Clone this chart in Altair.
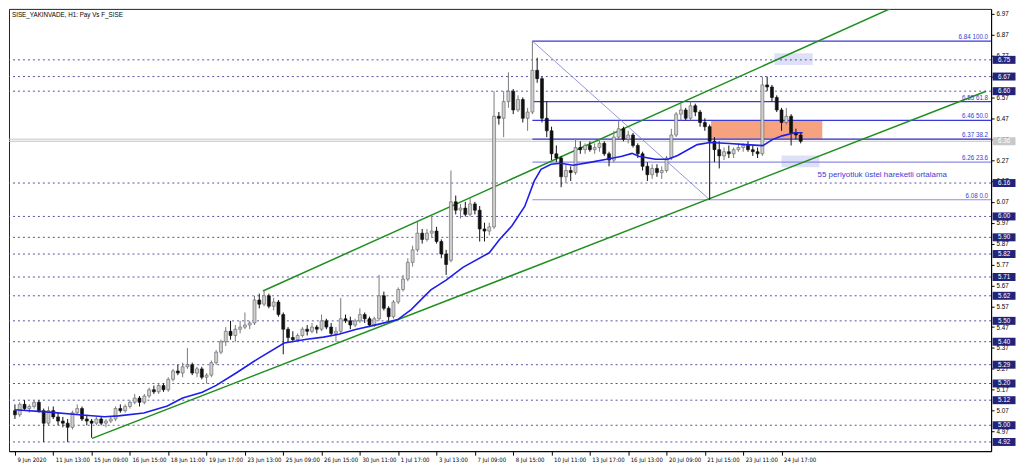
import json
import altair as alt
import pandas as pd

# ---------------- data (each candle = 2 H1 bars) ----------------
opens = [
    5.07, 5.05, 5.10, 5.08, 5.09, 5.11, 5.07, 5.01, 5.07, 5.04,
    5.02, 5.01, 4.99, 5.06, 5.08, 5.03, 5.02, 5.01, 5.03, 5.01,
    5.02, 5.03, 5.08, 5.07, 5.09, 5.11, 5.13, 5.11, 5.14, 5.17,
    5.16, 5.19, 5.17, 5.22, 5.26, 5.25, 5.28, 5.29, 5.25, 5.27,
    5.23, 5.24, 5.30, 5.35, 5.40, 5.45, 5.43, 5.46, 5.47, 5.48,
    5.49, 5.60, 5.58, 5.62, 5.57, 5.59, 5.53, 5.46, 5.42, 5.41,
    5.43, 5.46, 5.45, 5.47, 5.46, 5.50, 5.47, 5.44, 5.45, 5.51,
    5.50, 5.48, 5.50, 5.53, 5.51, 5.48, 5.51, 5.62, 5.56, 5.52,
    5.59, 5.65, 5.70, 5.78, 5.84, 5.92, 5.89, 5.92, 5.93, 5.88,
    5.82, 5.79, 6.07, 6.03, 6.04, 6.01, 6.06, 6.03, 5.94, 5.93,
    5.95, 6.48, 6.47, 6.55, 6.60, 6.51, 6.56, 6.47, 6.50, 6.70,
    6.66, 6.47, 6.41, 6.30, 6.28, 6.19, 6.22, 6.21, 6.33, 6.32,
    6.34, 6.32, 6.33, 6.35, 6.30, 6.27, 6.38, 6.42, 6.37, 6.39,
    6.34, 6.30, 6.24, 6.20, 6.23, 6.21, 6.22, 6.28, 6.39, 6.49,
    6.51, 6.47, 6.53, 6.50, 6.45, 6.43, 6.36, 6.32, 6.29, 6.31,
    6.30, 6.32, 6.33, 6.34, 6.32, 6.31, 6.30, 6.63, 6.62, 6.57,
    6.51, 6.45, 6.48, 6.40, 6.39,
]
highs = [
    5.10, 5.11, 5.12, 5.10, 5.12, 5.12, 5.08, 5.09, 5.09, 5.06,
    5.04, 5.03, 5.07, 5.10, 5.09, 5.05, 5.03, 5.04, 5.04, 5.03,
    5.04, 5.09, 5.10, 5.10, 5.12, 5.15, 5.14, 5.15, 5.18, 5.19,
    5.20, 5.20, 5.23, 5.27, 5.29, 5.30, 5.37, 5.30, 5.28, 5.28,
    5.25, 5.31, 5.36, 5.41, 5.47, 5.50, 5.48, 5.50, 5.54, 5.50,
    5.62, 5.63, 5.645, 5.63, 5.61, 5.60, 5.54, 5.47, 5.45, 5.44,
    5.47, 5.48, 5.49, 5.48, 5.53, 5.51, 5.49, 5.47, 5.61, 5.53,
    5.52, 5.51, 5.56, 5.54, 5.52, 5.52, 5.72, 5.64, 5.57, 5.60,
    5.66, 5.72, 5.80, 5.86, 5.98, 5.94, 5.94, 6.00, 5.95, 5.89,
    5.84, 6.22, 6.10, 6.06, 6.07, 6.09, 6.07, 6.05, 5.97, 5.97,
    6.60, 6.50, 6.60, 6.69, 6.61, 6.58, 6.57, 6.52, 6.84, 6.76,
    6.67, 6.55, 6.43, 6.34, 6.29, 6.25, 6.24, 6.37, 6.36, 6.35,
    6.36, 6.35, 6.37, 6.36, 6.31, 6.41, 6.46, 6.43, 6.41, 6.40,
    6.35, 6.31, 6.26, 6.25, 6.25, 6.24, 6.29, 6.42, 6.50, 6.54,
    6.52, 6.55, 6.54, 6.51, 6.47, 6.44, 6.38, 6.36, 6.33, 6.34,
    6.33, 6.35, 6.35, 6.36, 6.34, 6.33, 6.67, 6.67, 6.63, 6.58,
    6.52, 6.52, 6.49, 6.42, 6.40,
]
lows = [
    5.03, 5.04, 5.07, 5.06, 5.08, 5.06, 4.92, 5.00, 5.03, 5.00,
    4.99, 4.92, 4.98, 5.05, 5.02, 5.00, 4.94, 5.00, 5.00, 4.99,
    5.01, 5.02, 5.06, 5.06, 5.08, 5.10, 5.09, 5.10, 5.13, 5.15,
    5.15, 5.16, 5.16, 5.21, 5.24, 5.23, 5.27, 5.24, 5.23, 5.22,
    5.20, 5.23, 5.29, 5.34, 5.38, 5.41, 5.40, 5.44, 5.46, 5.46,
    5.48, 5.56, 5.57, 5.56, 5.55, 5.52, 5.34, 5.40, 5.40, 5.40,
    5.42, 5.43, 5.44, 5.44, 5.45, 5.46, 5.43, 5.40, 5.44, 5.49,
    5.46, 5.47, 5.49, 5.49, 5.47, 5.47, 5.50, 5.55, 5.50, 5.51,
    5.58, 5.64, 5.69, 5.76, 5.83, 5.87, 5.88, 5.90, 5.87, 5.80,
    5.72, 5.78, 6.01, 5.99, 6.00, 6.00, 6.01, 5.88, 5.88, 5.91,
    5.94, 6.44, 6.38, 6.52, 6.49, 6.50, 6.45, 6.41, 6.49, 6.64,
    6.45, 6.38, 6.27, 6.26, 6.14, 6.16, 6.17, 6.20, 6.30, 6.30,
    6.31, 6.30, 6.31, 6.29, 6.24, 6.26, 6.37, 6.36, 6.35, 6.33,
    6.28, 6.22, 6.17, 6.18, 6.19, 6.18, 6.21, 6.27, 6.38, 6.46,
    6.46, 6.46, 6.48, 6.43, 6.41, 6.08, 6.26, 6.23, 6.27, 6.28,
    6.28, 6.31, 6.31, 6.31, 6.29, 6.28, 6.29, 6.60, 6.55, 6.50,
    6.41, 6.44, 6.34, 6.37, 6.35,
]
closes = [
    5.05, 5.10, 5.08, 5.09, 5.11, 5.07, 5.01, 5.07, 5.04, 5.02,
    5.01, 4.99, 5.06, 5.08, 5.03, 5.02, 5.01, 5.03, 5.01, 5.02,
    5.03, 5.08, 5.07, 5.09, 5.11, 5.13, 5.11, 5.14, 5.17, 5.16,
    5.19, 5.17, 5.22, 5.26, 5.25, 5.28, 5.29, 5.25, 5.27, 5.23,
    5.24, 5.30, 5.35, 5.40, 5.45, 5.43, 5.46, 5.47, 5.48, 5.49,
    5.60, 5.58, 5.62, 5.57, 5.59, 5.53, 5.46, 5.42, 5.41, 5.43,
    5.46, 5.45, 5.47, 5.46, 5.50, 5.47, 5.44, 5.45, 5.51, 5.50,
    5.48, 5.50, 5.53, 5.51, 5.48, 5.51, 5.62, 5.56, 5.52, 5.59,
    5.65, 5.70, 5.78, 5.84, 5.92, 5.89, 5.92, 5.93, 5.88, 5.82,
    5.77, 6.07, 6.03, 6.04, 6.01, 6.06, 6.03, 5.94, 5.93, 5.95,
    6.48, 6.47, 6.55, 6.60, 6.51, 6.56, 6.47, 6.50, 6.70, 6.66,
    6.47, 6.41, 6.30, 6.28, 6.19, 6.22, 6.21, 6.33, 6.32, 6.34,
    6.32, 6.33, 6.35, 6.30, 6.27, 6.38, 6.42, 6.37, 6.39, 6.34,
    6.30, 6.24, 6.20, 6.23, 6.21, 6.22, 6.28, 6.39, 6.49, 6.51,
    6.47, 6.53, 6.50, 6.45, 6.43, 6.36, 6.32, 6.29, 6.31, 6.30,
    6.32, 6.33, 6.34, 6.32, 6.31, 6.30, 6.63, 6.62, 6.57, 6.51,
    6.45, 6.48, 6.40, 6.39, 6.36,
]

# 55-period exponential moving average (candle index, price)
ema_k = [0, 6.5, 13.4, 18.7, 21.6, 26.9, 31.8, 35, 39.1, 42, 46, 50.7, 56.2, 60.9,
         64.4, 67.6, 71.1, 75.8, 79.9, 82.7, 86.8, 90, 93.5, 99, 101.1, 103.7, 106.4,
         108.4, 109.8, 111.9, 113.9, 116.5, 120, 123.5, 126.7, 128.8, 130.2, 133.7,
         136.3, 138.3, 142.4, 145.1, 149.1, 152.6, 156.1, 158.1, 160.1, 162.8, 164.4]
ema_v = [5.074, 5.064, 5.050, 5.041, 5.045, 5.059, 5.092, 5.130, 5.158, 5.191, 5.248,
         5.318, 5.394, 5.412, 5.422, 5.436, 5.459, 5.483, 5.506, 5.554, 5.648, 5.695,
         5.756, 5.826, 5.888, 5.954, 6.048, 6.170, 6.226, 6.250, 6.255, 6.245, 6.259,
         6.274, 6.288, 6.302, 6.288, 6.274, 6.274, 6.292, 6.344, 6.354, 6.349, 6.344,
         6.339, 6.368, 6.386, 6.401, 6.401]

x_labels = ["9 Jun 2020", "11 Jun 13:00", "15 Jun 09:00", "16 Jun 15:00", "18 Jun 11:00",
            "19 Jun 17:00", "23 Jun 13:00", "25 Jun 09:00", "26 Jun 15:00", "30 Jun 11:00",
            "1 Jul 17:00", "3 Jul 13:00", "7 Jul 09:00", "8 Jul 15:00", "10 Jul 11:00",
            "13 Jul 17:00", "16 Jul 13:00", "20 Jul 09:00", "21 Jul 15:00", "23 Jul 11:00",
            "24 Jul 17:00"]
y_ticks = [4.97, 5.07, 5.17, 5.27, 5.37, 5.47, 5.57, 5.67, 5.77, 5.87, 5.97,
           6.07, 6.17, 6.27, 6.37, 6.47, 6.57, 6.67, 6.77, 6.87, 6.97]

levels = [6.75, 6.67, 6.60, 6.16, 6.00, 5.90, 5.82, 5.71, 5.62, 5.50, 5.40,
          5.29, 5.20, 5.12, 5.00, 4.92]
bid_ask = [6.36, 6.37]
last_price = [6.36]

fib_prices = [6.84, 6.55, 6.46, 6.37, 6.26, 6.08]
fib_pcts = ["100.0", "61.8", "50.0", "38.2", "23.6", "0.0"]
fib_start_k = 108
fib_diag_k = [108, 145]
fib_diag_p = [6.84, 6.08]

# channel trend lines: two anchor points each (candle index, price)
upper_k = [51.75, 173.0]
upper_p = [5.643, 6.895]
lower_k = [16.1, 203.1]
lower_p = [4.937, 6.603]

zone_k1 = [145.3, 158.5, 160.0]
zone_k2 = [168.5, 166.5, 167.9]
zone_p1 = [6.37, 6.725, 6.236]
zone_p2 = [6.46, 6.782, 6.292]
zone_kind = ["orange", "blue", "blue"]

note_text = "55 periyotluk üstel hareketli ortalama"
note_k = [167.5]
note_p = [6.198]
title_text = "SISE_YAKINVADE, H1:  Pay Vs F_SISE"

# ---------------- chart ----------------
W, H = 986, 444
K_MIN, K_MAX = -0.2, 202.7
P_MIN, P_MAX = 4.876, 6.994
FONT = "Liberation Sans"
NARROW = "Liberation Sans Narrow, DejaVu Sans Condensed, Liberation Sans"

df = pd.DataFrame(dict(k=list(range(len(opens))), o=opens, h=highs, l=lows, c=closes))
df["up"] = df["c"] >= df["o"]

xs = alt.Scale(domain=[K_MIN, K_MAX], nice=False, zero=False)
ys = alt.Scale(domain=[P_MIN, P_MAX], nice=False, zero=False)

x_ticks = [8 * i for i in range(len(x_labels))]
label_expr = json.dumps(x_labels) + "[round(datum.value / 8)]"

x_axis = alt.Axis(values=x_ticks, labelExpr=label_expr, orient="bottom", title=None,
                  grid=False, labelAlign="left", labelFontSize=6, labelFont=NARROW,
                  tickSize=4, tickColor="#000", domainColor="#000", labelPadding=1,
                  labelColor="#000", labelOverlap=False, labelFlush=False, labelOffset=2)
y_axis = alt.Axis(values=y_ticks, orient="right", format=".2f", title=None, grid=False,
                  labelFontSize=6.3, labelFont=FONT, tickSize=3, tickColor="#000",
                  domainColor="#000", labelPadding=2, labelColor="#000",
                  labelOverlap=False, labelFlush=False)


def X(field):
    return alt.X(field, scale=xs, axis=x_axis)


def Y(field):
    return alt.Y(field, scale=ys, axis=y_axis)


up_cond_wick = alt.condition("datum.up", alt.value("#7a7a7a"), alt.value("#111111"))
up_cond_fill = alt.condition("datum.up", alt.value("#cfcfcf"), alt.value("#111111"))
up_cond_stroke = alt.condition("datum.up", alt.value("#5e5e5e"), alt.value("#111111"))

zones = pd.DataFrame(dict(k1=zone_k1, k2=zone_k2, p1=zone_p1, p2=zone_p2, kind=zone_kind))
zone_layer = alt.Chart(zones).mark_rect(clip=True).encode(
    x=X("k1:Q"), x2="k2:Q", y=Y("p1:Q"), y2="p2:Q",
    color=alt.Color("kind:N", scale=alt.Scale(domain=["orange", "blue"],
                                             range=["#f6a27f", "#dde0f6"]), legend=None),
)

lv = pd.DataFrame(dict(p=levels, t=[f"{v:.2f}" for v in levels]))
dashed = alt.Chart(lv).mark_rule(strokeDash=[2, 3], color="#55559f", strokeWidth=1).encode(
    y=Y("p:Q"))

ba = pd.DataFrame(dict(p=bid_ask))
bid_lines = alt.Chart(ba).mark_rule(color="#c4c4c4", strokeWidth=1).encode(y=Y("p:Q"))

fib = pd.DataFrame(dict(p=fib_prices, k=[fib_start_k] * len(fib_prices),
                        t=[f"{p:.2f} {q}" for p, q in zip(fib_prices, fib_pcts)],
                        light=[q in ("23.6", "0.0") for q in fib_pcts]))
fib_lines = alt.Chart(fib).mark_rule(strokeWidth=1.2).encode(
    x=X("k:Q"), x2=alt.value(W), y=Y("p:Q"),
    color=alt.condition("datum.light", alt.value("#8c8ce6"), alt.value("#3a3ad6")))
fib_text = alt.Chart(fib).mark_text(align="right", baseline="bottom", dy=-1,
                                    fontSize=6.3, font=FONT, color="#3a3ad0").encode(
    x=alt.value(W - 3), y=Y("p:Q"), text="t:N")

diag = pd.DataFrame(dict(k=fib_diag_k, p=fib_diag_p))
diag_line = alt.Chart(diag).mark_line(color="#7a7ad0", strokeWidth=0.8, clip=True).encode(
    x=X("k:Q"), y=Y("p:Q"))


def extend(ks, ps, k_end):
    slope = (ps[1] - ps[0]) / (ks[1] - ks[0])
    return [ks[0], k_end], [ps[0], ps[0] + slope * (k_end - ks[0])]


uk, up_ = extend(upper_k, upper_p, K_MAX)
lk, lp = extend(lower_k, lower_p, K_MAX)
chan = pd.DataFrame(dict(k=uk + lk, p=up_ + lp, name=["u", "u", "l", "l"]))
chan_lines = alt.Chart(chan).mark_line(color="#1f8f1f", strokeWidth=1.5, clip=True).encode(
    x=X("k:Q"), y=Y("p:Q"), detail="name:N")

wicks = alt.Chart(df).mark_rule(strokeWidth=1, clip=True).encode(
    x=X("k:Q"), y=Y("l:Q"), y2="h:Q", color=up_cond_wick)
bodies = alt.Chart(df).mark_bar(size=3, orient="vertical", strokeWidth=0.6, clip=True).encode(
    x=X("k:Q"), y=Y("o:Q"), y2="c:Q", fill=up_cond_fill, stroke=up_cond_stroke)

ema = pd.DataFrame(dict(k=ema_k, p=ema_v))
ema_line = alt.Chart(ema).mark_line(color="#1e1ee8", strokeWidth=1.6, clip=True).encode(
    x=X("k:Q"), y=Y("p:Q"))

note = alt.Chart(pd.DataFrame(dict(k=note_k, p=note_p, t=[note_text]))).mark_text(
    align="left", baseline="middle", fontSize=8, font=FONT, color="#3c3cd8").encode(
    x=X("k:Q"), y=Y("p:Q"), text="t:N")

title = alt.Chart(pd.DataFrame(dict(t=[title_text]))).mark_text(
    align="left", baseline="top", fontSize=6.3, font=FONT, color="#000").encode(
    x=alt.value(3), y=alt.value(3), text="t:N")

box_x = W + 13
boxes = alt.Chart(lv).mark_tick(orient="horizontal", size=23, thickness=8,
                                color="#23237a", opacity=1).encode(
    x=alt.value(box_x), y=Y("p:Q"))
box_text = alt.Chart(lv).mark_text(align="center", baseline="middle", fontSize=6.3,
                                   font=FONT, color="#ffffff").encode(
    x=alt.value(box_x), y=Y("p:Q"), text="t:N")

lp_df = pd.DataFrame(dict(p=last_price, t=[f"{v:.2f}" for v in last_price]))
last_box = alt.Chart(lp_df).mark_tick(orient="horizontal", size=23, thickness=8,
                                      color="#c8c8c8", opacity=1).encode(
    x=alt.value(box_x), y=Y("p:Q"))
last_text = alt.Chart(lp_df).mark_text(align="center", baseline="middle", fontSize=6.3,
                                       font=FONT, color="#ffffff").encode(
    x=alt.value(box_x), y=Y("p:Q"), text="t:N")

chart = alt.layer(
    zone_layer, dashed, bid_lines, fib_lines, diag_line, chan_lines,
    wicks, bodies, ema_line, fib_text, note, title,
    boxes, box_text, last_box, last_text,
).properties(width=W, height=H, padding=0, background="#ffffff").configure_view(
    stroke="#222222", strokeWidth=1)

chart.save("out.html", embed_options={"renderer": "svg", "actions": False})
